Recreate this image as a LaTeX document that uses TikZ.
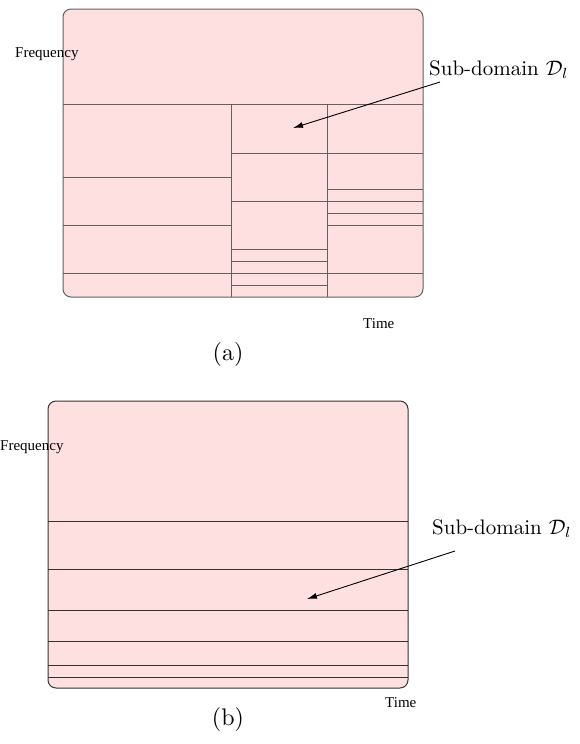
\documentclass[tikz,border=0pt]{standalone}
\usepackage{fontspec}
\newfontfamily\timesfont{Liberation Serif}
\usetikzlibrary{arrows.meta}
\definecolor{cellpink}{HTML}{FFE0E1}
\newcommand{\bigtext}[1]{\scalebox{2.1}{#1}}
\newcommand{\captext}[1]{\scalebox{2.4}{#1}}
\tikzset{
  panel/.style={fill=cellpink, rounded corners=8pt, line width=1pt},
  split/.style={line width=1pt},
  axislabel/.style={font=\timesfont\fontsize{15}{18}\selectfont, inner sep=0pt, anchor=base west},
  domlabel/.style={inner sep=0pt, anchor=base west},
  caption/.style={inner sep=0pt},
  pointer/.style={line width=0.9pt, -{Latex[length=10pt,width=6pt]}}
}
\begin{document}
\begin{tikzpicture}[x=1pt, y=-1pt]
\useasboundingbox (0,0) rectangle (580,744);

% ---------- (a): tiling with three time columns ----------
\begin{scope}[draw=black!62]
  \draw[panel] (63,9) rectangle (423,297);
  \draw[split] (63,104) -- (423,104);
  \draw[split] (231,104) -- (231,297);
  \draw[split] (327,104) -- (327,297);
  % left column
  \foreach \y in {177,225,273} \draw[split] (63,\y) -- (231,\y);
  % middle column
  \foreach \y in {153,201,249,261,273,285} \draw[split] (231,\y) -- (327,\y);
  % right column
  \foreach \y in {153,189,201,213,225,273} \draw[split] (327,\y) -- (423,\y);
\end{scope}

\node[axislabel] (freqa) at (15,57) {Frequency};
\node[axislabel] (timea) at (363,328) {Time};
\node[domlabel] (suba) at (429,75) {\bigtext{Sub-domain $\mathcal{D}_l$}};
\coordinate (starta) at (440,82);
\coordinate (tipa) at (293,128);
\draw[pointer] (starta) -- (tipa);
\node[caption] (capa) at (228,354) {\captext{(a)}};

% ---------- (b): tiling with frequency bands only ----------
\begin{scope}[draw=black!80]
  \draw[panel] (48,401) rectangle (408,688);
  \foreach \y in {521,569,610,641,665,677} \draw[split] (48,\y) -- (408,\y);
\end{scope}

\node[axislabel] (freqb) at (0,450) {Frequency};
\node[axislabel] (timeb) at (385,707) {Time};
\node[domlabel] (subb) at (432,534) {\bigtext{Sub-domain $\mathcal{D}_l$}};
\coordinate (startb) at (455,551);
\coordinate (tipb) at (307,599);
\draw[pointer] (startb) -- (tipb);
\node[caption] (capb) at (228,719) {\captext{(b)}};
\end{tikzpicture}
\end{document}
